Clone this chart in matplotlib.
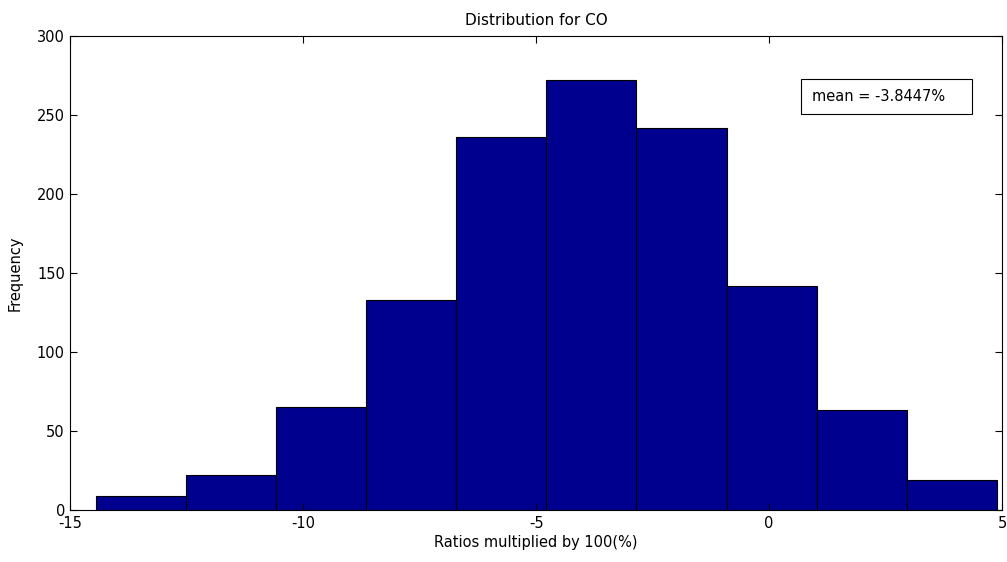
import matplotlib
matplotlib.use("Agg")
import matplotlib.pyplot as plt
from matplotlib.patches import Rectangle
import numpy as np

# histogram of CO ratios (x100, in %)
bin_edges = [-14.46, -12.52, -10.59, -8.65, -6.72, -4.78, -2.85, -0.91, 1.02, 2.96, 4.90]
counts = [9, 22, 65, 133, 236, 272, 242, 142, 63, 19]
mean_value = -3.8447

x_ticks = [-15, -10, -5, 0, 5]
y_ticks = [0, 50, 100, 150, 200, 250, 300]

plt.rcParams['font.family'] = ['DejaVu Sans']
plt.rcParams['axes.unicode_minus'] = False

fig = plt.figure(figsize=(10.07, 5.62), dpi=100)
ax = fig.add_axes([0.070, 0.0925, 0.925, 0.8435])

edges = np.array(bin_edges)
ax.bar(edges[:-1], counts, width=np.diff(edges), align='edge',
       color='#00008F', edgecolor='black', linewidth=0.8)

ax.set_xlim(-15, 5)
ax.set_ylim(0, 300)
ax.set_xticks(x_ticks)
ax.set_yticks(y_ticks)
ax.tick_params(direction='in', length=5, width=0.8, top=True, right=True,
               labelsize=10.5, pad=4)
for side in ax.spines.values():
    side.set_linewidth(0.8)

ax.set_title("Distribution for CO", fontsize=11, pad=8)
ax.set_xlabel("Ratios multiplied by 100(%)", fontsize=10.5, labelpad=3)
ax.set_ylabel("Frequency", fontsize=10.5, labelpad=10)

# legend-style box with the mean
ax.add_patch(Rectangle((0.784, 0.835), 0.184, 0.074, transform=ax.transAxes,
                       facecolor='white', edgecolor='black', linewidth=0.8,
                       zorder=5))
ax.text(0.796, 0.872, f"mean = {mean_value:.4f}%", transform=ax.transAxes,
        fontsize=10.5, ha='left', va='center', zorder=6)

fig.savefig("out.png", dpi=100)
